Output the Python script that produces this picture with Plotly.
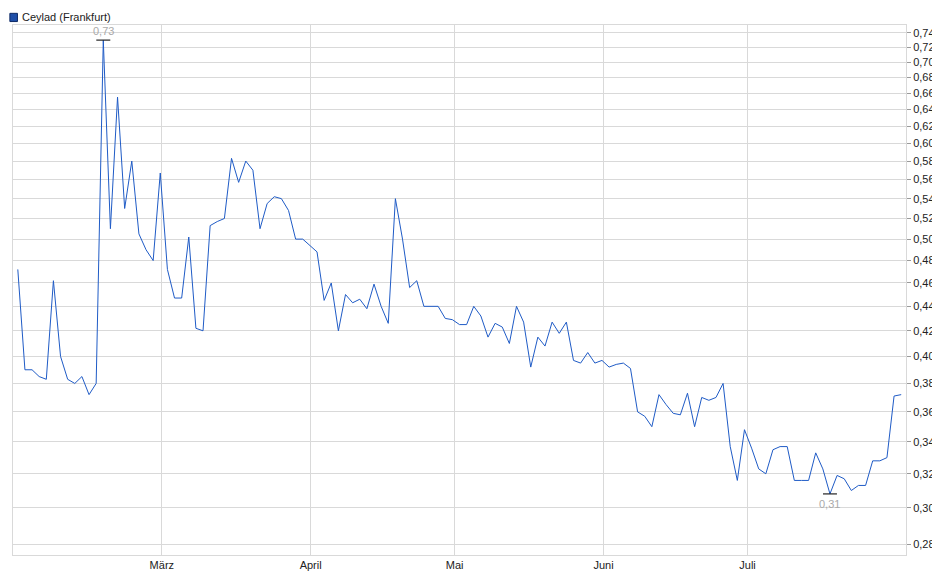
import pandas as pd
import numpy as np
import plotly.graph_objects as go

# Ceylad (Frankfurt) closing prices
prices = [
    0.472, 0.39, 0.39, 0.385, 0.383, 0.462, 0.40, 0.383, 0.38, 0.385, 0.372, 0.38,
    0.73, 0.51, 0.655, 0.53, 0.58, 0.505, 0.49, 0.48, 0.567, 0.472, 0.447, 0.447,
    0.502, 0.422, 0.42, 0.513, 0.517, 0.52, 0.583, 0.557, 0.58, 0.57, 0.51, 0.535,
    0.542, 0.54, 0.528, 0.50, 0.50, 0.494, 0.488, 0.445, 0.46, 0.42, 0.45, 0.443,
    0.446, 0.438, 0.459, 0.44, 0.426, 0.54, 0.50, 0.456, 0.462, 0.44, 0.44, 0.44,
    0.43, 0.429, 0.425, 0.425,
    0.44, 0.432, 0.415, 0.426, 0.423, 0.41, 0.44, 0.427, 0.392, 0.415,
    0.408, 0.427, 0.418, 0.427, 0.397, 0.395, 0.403, 0.395, 0.397, 0.392,
    0.394, 0.395, 0.391, 0.36, 0.357, 0.35, 0.372, 0.365, 0.359, 0.358,
    0.373, 0.35, 0.37, 0.368, 0.37, 0.38, 0.337, 0.316, 0.348, 0.336,
    0.323, 0.32, 0.335, 0.337, 0.337, 0.316, 0.316, 0.316, 0.333, 0.323,
    0.308, 0.319, 0.317, 0.31, 0.313, 0.313, 0.328, 0.328, 0.33, 0.371, 0.372,
]
dates = pd.date_range("2024-01-31", "2024-08-02", periods=len(prices))

month_ticks = ["2024-03-01", "2024-04-01", "2024-05-01", "2024-06-01", "2024-07-01"]
month_labels = ["März", "April", "Mai", "Juni", "Juli"]
price_ticks = [round(0.28 + 0.02 * i, 2) for i in range(24)]

blue = "#1f5bc6"
grey = "#d9d9d9"

i_max = int(np.argmax(prices))
i_min = int(np.argmin(prices))

fig = go.Figure()
fig.add_trace(go.Scatter(
    x=dates, y=prices, mode="lines", name="Ceylad (Frankfurt)",
    line=dict(color=blue, width=1),
))
# high / low markers
fig.add_trace(go.Scatter(
    x=[dates[i_max], dates[i_min]], y=[prices[i_max], prices[i_min]],
    mode="markers", showlegend=False, hoverinfo="skip",
    marker=dict(symbol="line-ew", size=10, line=dict(color="#222", width=1.2)),
))
fig.add_annotation(x=dates[i_max], y=np.log10(prices[i_max]), text="0,73",
                   showarrow=False, yshift=9, font=dict(color="#aaaaaa", size=11))
fig.add_annotation(x=dates[i_min], y=np.log10(prices[i_min]), text="0,31",
                   showarrow=False, yshift=-10, font=dict(color="#aaaaaa", size=11))

# legend drawn by hand so it does not push the margins
fig.add_shape(type="rect", xref="paper", yref="paper",
              x0=-0.0035, x1=0.005, y0=1.0065, y1=1.022,
              fillcolor="#1f4fa8", line=dict(color="#0d2a66", width=1))
fig.add_annotation(xref="paper", yref="paper", x=0.008, y=1.0145, xanchor="left",
                   yanchor="middle", text="Ceylad (Frankfurt)", showarrow=False,
                   font=dict(size=11, color="#222"))

fig.update_layout(
    width=940, height=579,
    margin=dict(l=5, r=42, t=17, b=32, autoexpand=False),
    plot_bgcolor="white", paper_bgcolor="white",
    font=dict(family="Liberation Sans, Arial, sans-serif", size=11, color="#222"),
    separators=",.",
    showlegend=False,
    xaxis=dict(
        range=["2024-01-30", "2024-08-03"], automargin=False,
        tickvals=month_ticks, ticktext=month_labels,
        showgrid=True, gridcolor=grey, gridwidth=1,
        showline=True, linecolor=grey, mirror=True, ticks="", zeroline=False,
    ),
    yaxis=dict(
        type="log", side="right", range=[-0.5619, -0.1242], automargin=False,
        tickvals=price_ticks, tickformat=".2f",
        showgrid=True, gridcolor=grey, gridwidth=1,
        showline=True, linecolor=grey, mirror=True,
        ticks="outside", ticklen=4, tickcolor="#999", zeroline=False,
    ),
)

fig.write_html("out.html")
